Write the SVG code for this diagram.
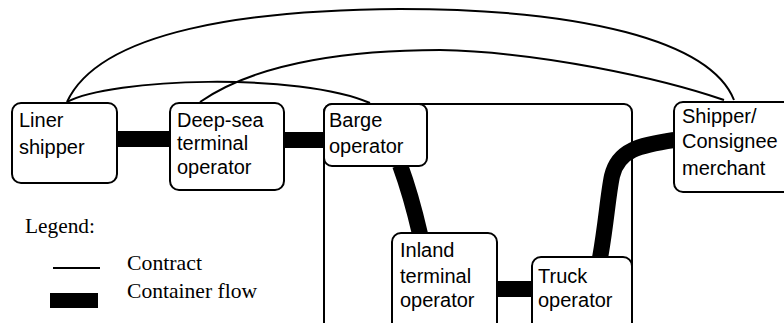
<svg xmlns="http://www.w3.org/2000/svg" width="784" height="323" viewBox="0 0 784 323">
<style>
.box{fill:#fff;stroke:#000;stroke-width:2}
.frame{fill:none;stroke:#000;stroke-width:2}
.lbl{font-family:"Liberation Sans",Arial,sans-serif;font-size:20px;fill:#000}
.leg{font-family:"Liberation Serif","Times New Roman",serif;font-size:21px;fill:#000}
.contract{fill:none;stroke:#000;stroke-width:2}
.flow{fill:none;stroke:#000;stroke-width:16}
</style>
<rect width="784" height="323" fill="#fff"/>
<g id="connectors">
<path class="contract" d="M 67 102 C 100 30, 250 10, 400 9 C 580 9, 710 40, 734 100"/>
<path class="contract" d="M 67 102 C 110 78, 300 72, 370 103"/>
<path class="contract" d="M 200 102 C 260 60, 360 50, 440 50 C 540 52, 660 78, 724 100"/>
<path class="flow" d="M 117 139 L 170 139"/>
<path class="flow" d="M 283 140 L 325 140"/>
<path class="flow" d="M 400 165 Q 411 195 420 234"/>
<path class="flow" stroke-width="14" d="M 497 289 L 532 289"/>
<path class="flow" d="M 600 258 C 606 225, 608 195, 612 176 C 618 150, 640 145, 674 140"/>
</g>
<g id="container-frame">
<rect class="frame" x="324" y="104" width="308" height="240" rx="8"/>
</g>
<g id="liner-shipper">
<rect class="box" x="12" y="103" width="105" height="80" rx="9"/>
<text class="lbl" x="19" y="127">Liner</text>
<text class="lbl" x="19" y="154">shipper</text>
</g>
<g id="deep-sea-terminal">
<rect class="box" x="170" y="103" width="114" height="87" rx="9"/>
<text class="lbl" x="177" y="127">Deep-sea</text>
<text class="lbl" x="177" y="150">terminal</text>
<text class="lbl" x="177" y="174">operator</text>
</g>
<g id="barge-operator">
<rect class="box" x="324" y="104" width="103" height="62" rx="8"/>
<text class="lbl" x="329" y="127">Barge</text>
<text class="lbl" x="329" y="153">operator</text>
</g>
<g id="shipper-consignee">
<rect class="box" x="674" y="102" width="130" height="90" rx="9"/>
<text class="lbl" x="682" y="123">Shipper/</text>
<text class="lbl" x="682" y="148">Consignee</text>
<text class="lbl" x="682" y="175">merchant</text>
</g>
<g id="inland-terminal">
<rect class="box" x="392" y="233" width="105" height="110" rx="9"/>
<text class="lbl" x="400" y="257">Inland</text>
<text class="lbl" x="400" y="283">terminal</text>
<text class="lbl" x="400" y="307">operator</text>
</g>
<g id="truck-operator">
<rect class="box" x="532" y="257" width="100" height="90" rx="9"/>
<text class="lbl" x="538" y="283">Truck</text>
<text class="lbl" x="538" y="307">operator</text>
</g>
<g id="legend">
<text class="leg" x="25" y="233" textLength="70" lengthAdjust="spacingAndGlyphs">Legend:</text>
<line x1="53" y1="268" x2="100" y2="268" stroke="#000" stroke-width="2"/>
<text class="leg" x="127" y="270" textLength="75" lengthAdjust="spacingAndGlyphs">Contract</text>
<rect x="50" y="293" width="48" height="15" fill="#000"/>
<text class="leg" x="127" y="298" textLength="130" lengthAdjust="spacingAndGlyphs">Container flow</text>
</g>
</svg>
